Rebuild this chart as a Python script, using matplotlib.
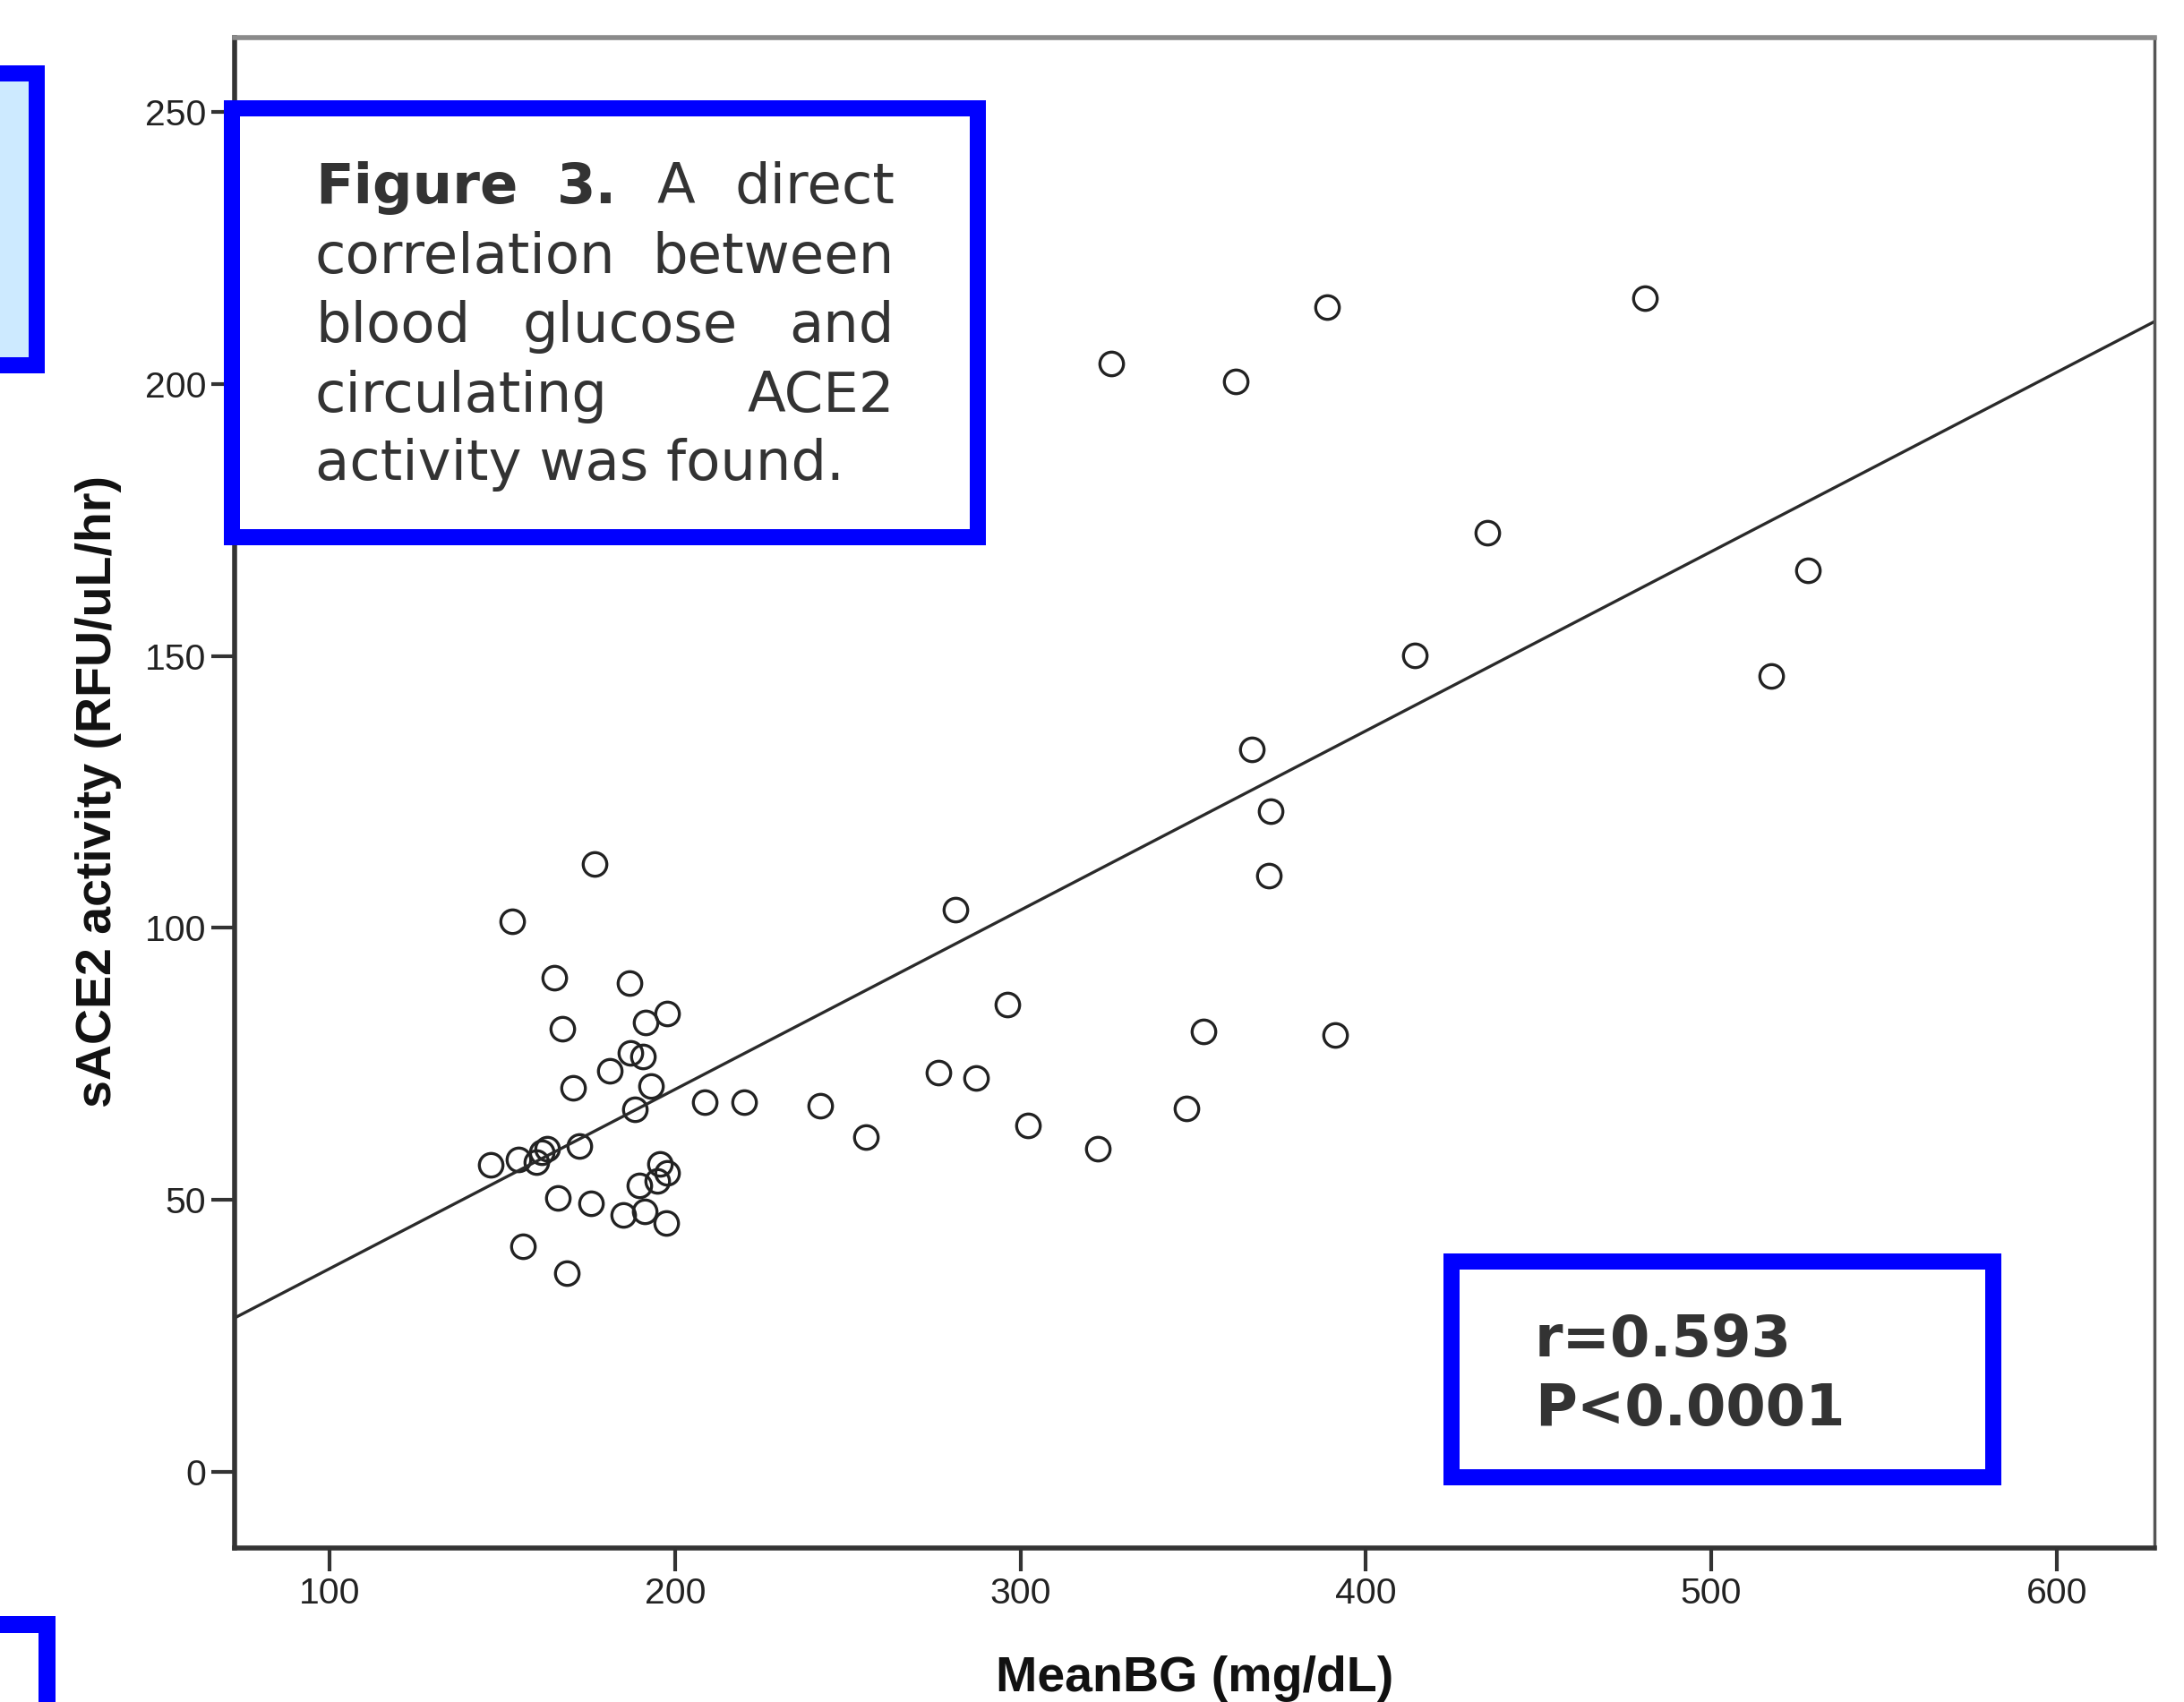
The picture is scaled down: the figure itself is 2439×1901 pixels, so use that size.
import matplotlib
matplotlib.use("Agg")
import matplotlib.pyplot as plt
from matplotlib.patches import Rectangle

# MeanBG (mg/dL) vs sACE2 activity (RFU/uL/hr)
mean_bg = [326.3, 362.3, 388.7, 480.8, 435.2, 528.1, 414.1, 517.3,
           366.9, 372.5, 372.0, 281.1, 296.2, 353.0, 391.1, 276.3,
           287.1, 348.1, 302.3, 322.3,
           176.7, 152.8, 165.0, 186.9, 197.6, 191.5, 167.5, 187.1,
           190.6, 181.2, 170.6, 193.1, 188.5,
           208.5, 220.0, 242.1, 255.2,
           146.7, 154.8, 159.9, 161.5, 163.1, 172.4,
           195.6, 197.8, 194.9, 189.7,
           166.0, 175.8, 185.1, 191.2, 197.4,
           155.9, 168.6]
sace2 = [203.7, 200.5, 214.2, 215.8, 172.6, 165.7, 150.1, 146.3,
         132.9, 121.5, 109.6, 103.4, 86.0, 81.0, 80.3, 73.4,
         72.5, 66.8, 63.7, 59.4,
         111.8, 101.3, 90.8, 89.9, 84.3, 82.6, 81.5, 77.1,
         76.3, 73.7, 70.6, 70.9, 66.6,
         68.0, 67.9, 67.4, 61.5,
         56.4, 57.4, 56.9, 58.7, 59.4, 59.9,
         56.6, 54.9, 53.5, 52.6,
         50.4, 49.3, 47.2, 47.9, 45.7,
         41.5, 36.6]

# fit line as drawn in the figure
fit_intercept = 4.4
fit_slope = 0.3296

x_ticks = [100, 200, 300, 400, 500, 600]
y_ticks = [0, 50, 100, 150, 200, 250]

caption_lines = [
    [("Figure", True), ("3.", True), ("A", False), ("direct", False)],
    [("correlation", False), ("between", False)],
    [("blood", False), ("glucose", False), ("and", False)],
    [("circulating", False), ("ACE2", False)],
    [("activity was found.", False)],
]
stats_lines = ["r=0.593", "P<0.0001"]

W, H = 2439, 1901
BLUE = "#0000ff"
TEXT_GREY = "#333333"

fig = plt.figure(figsize=(W / 100, H / 100), dpi=100)
ax = fig.add_axes([262 / W, 1 - 1729 / H, (2406 - 262) / W, (1729 - 42) / H])

ax.plot(mean_bg, sace2, linestyle="none", marker="o", markersize=19,
        markerfacecolor="none", markeredgecolor="#222222", markeredgewidth=2.4)
ax.axline((0, fit_intercept), slope=fit_slope, color="#2a2a2a", linewidth=2.4)

ax.set_xlim(72.5, 628.3)
ax.set_ylim(-14.0, 263.7)
ax.set_xticks(x_ticks)
ax.set_yticks(y_ticks)
ax.tick_params(axis="both", direction="out", length=19, width=3, color="#333333",
               labelsize=29.5, labelcolor="#222222", pad=4)
for lab in ax.get_xticklabels() + ax.get_yticklabels():
    lab.set_family("Liberation Sans")

ax.spines["left"].set(linewidth=4, color="#333333")
ax.spines["bottom"].set(linewidth=4, color="#333333")
ax.spines["top"].set(linewidth=4, color="#8a8a8a")
ax.spines["right"].set(linewidth=2.5, color="#555555")

fig.text(1334 / W, 1 - 1889 / H, "MeanBG (mg/dL)", family="Liberation Sans",
         fontweight="bold", fontsize=40, color="#111111", ha="center", va="baseline")
fig.text(110 / W, 1 - 884 / H, "sACE2 activity (RFU/uL/hr)", family="Liberation Sans",
         fontweight="bold", fontsize=40, color="#111111", rotation=90,
         ha="center", va="center")


def add_box(x0, y0, x1, y1, lw_px, face):
    # pixel coords of the border centre line, top-left origin
    rect = Rectangle((x0 / W, 1 - y1 / H), (x1 - x0) / W, (y1 - y0) / H,
                     transform=fig.transFigure, facecolor=face, edgecolor=BLUE,
                     linewidth=lw_px * 0.72, joinstyle="miter", zorder=3)
    fig.add_artist(rect)


# poster boxes cut off at the left edge
add_box(-60, 82, 41, 408, 18, "#cdeaff")
add_box(-60, 1814, 52, 1990, 19, "white")
# caption box and stats box
add_box(259, 121, 1092, 600, 18, "white")
add_box(1621, 1409, 2226, 1650, 18, "white")

renderer = fig.canvas.get_renderer()
left_px, right_px = 352, 999
baselines = [227, 305, 382, 460, 536]
for words, base in zip(caption_lines, baselines):
    texts = []
    for word, bold in words:
        t = fig.text(0, 1 - base / H, word, family="DejaVu Sans", fontsize=45,
                     fontweight="bold" if bold else "normal", color=TEXT_GREY,
                     ha="left", va="baseline", zorder=4)
        texts.append(t)
    widths = [t.get_window_extent(renderer).width for t in texts]
    gap = 0
    if len(texts) > 1:
        gap = ((right_px - left_px) - sum(widths)) / (len(texts) - 1)
    x = left_px
    for t, w in zip(texts, widths):
        t.set_x(x / W)
        x += w + gap

for line, base in zip(stats_lines, [1515, 1592]):
    fig.text(1714 / W, 1 - base / H, line, family="DejaVu Sans", fontsize=46,
             fontweight="bold", color=TEXT_GREY, ha="left", va="baseline", zorder=4)

fig.savefig("out.png", dpi=100)
